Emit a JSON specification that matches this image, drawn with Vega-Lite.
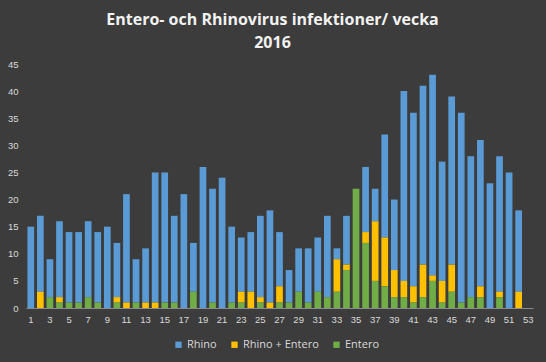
{
  "$schema": "https://vega.github.io/schema/vega-lite/v6.json",
  "width": 507,
  "height": 244,
  "autosize": {"type": "none"},
  "padding": {"left": 26, "top": 64, "right": 13, "bottom": 54},
  "background": "#3c3c3c",
  "title": {
    "text": ["Entero- och Rhinovirus infektioner/ vecka", "2016"],
    "color": "#f2f2f2",
    "font": "Open Sans",
    "fontSize": 16,
    "fontWeight": "bold",
    "anchor": "middle",
    "lineHeight": 23,
    "offset": 8,
    "dx": -7
  },
  "datasets": {
    "ranks": [
      {"key": "Entero", "rank": 1},
      {"key": "Rhino + Entero", "rank": 2},
      {"key": "Rhino", "rank": 3}
    ]
  },
  "data": {
    "values": [
      {"w": 1, "Rhino": 15, "Rhino + Entero": 0, "Entero": 0},
      {"w": 2, "Rhino": 14, "Rhino + Entero": 3, "Entero": 0},
      {"w": 3, "Rhino": 7, "Rhino + Entero": 0, "Entero": 2},
      {"w": 4, "Rhino": 14, "Rhino + Entero": 1, "Entero": 1},
      {"w": 5, "Rhino": 13, "Rhino + Entero": 0, "Entero": 1},
      {"w": 6, "Rhino": 13, "Rhino + Entero": 0, "Entero": 1},
      {"w": 7, "Rhino": 14, "Rhino + Entero": 0, "Entero": 2},
      {"w": 8, "Rhino": 13, "Rhino + Entero": 0, "Entero": 1},
      {"w": 9, "Rhino": 15, "Rhino + Entero": 0, "Entero": 0},
      {"w": 10, "Rhino": 10, "Rhino + Entero": 1, "Entero": 1},
      {"w": 11, "Rhino": 20, "Rhino + Entero": 1, "Entero": 0},
      {"w": 12, "Rhino": 8, "Rhino + Entero": 0, "Entero": 1},
      {"w": 13, "Rhino": 10, "Rhino + Entero": 1, "Entero": 0},
      {"w": 14, "Rhino": 24, "Rhino + Entero": 1, "Entero": 0},
      {"w": 15, "Rhino": 24, "Rhino + Entero": 0, "Entero": 1},
      {"w": 16, "Rhino": 16, "Rhino + Entero": 0, "Entero": 1},
      {"w": 17, "Rhino": 21, "Rhino + Entero": 0, "Entero": 0},
      {"w": 18, "Rhino": 9, "Rhino + Entero": 0, "Entero": 3},
      {"w": 19, "Rhino": 26, "Rhino + Entero": 0, "Entero": 0},
      {"w": 20, "Rhino": 21, "Rhino + Entero": 0, "Entero": 1},
      {"w": 21, "Rhino": 24, "Rhino + Entero": 0, "Entero": 0},
      {"w": 22, "Rhino": 14, "Rhino + Entero": 0, "Entero": 1},
      {"w": 23, "Rhino": 10, "Rhino + Entero": 2, "Entero": 1},
      {"w": 24, "Rhino": 11, "Rhino + Entero": 3, "Entero": 0},
      {"w": 25, "Rhino": 15, "Rhino + Entero": 1, "Entero": 1},
      {"w": 26, "Rhino": 17, "Rhino + Entero": 1, "Entero": 0},
      {"w": 27, "Rhino": 10, "Rhino + Entero": 3, "Entero": 1},
      {"w": 28, "Rhino": 6, "Rhino + Entero": 0, "Entero": 1},
      {"w": 29, "Rhino": 8, "Rhino + Entero": 0, "Entero": 3},
      {"w": 30, "Rhino": 10, "Rhino + Entero": 0, "Entero": 1},
      {"w": 31, "Rhino": 10, "Rhino + Entero": 0, "Entero": 3},
      {"w": 32, "Rhino": 15, "Rhino + Entero": 0, "Entero": 2},
      {"w": 33, "Rhino": 2, "Rhino + Entero": 6, "Entero": 3},
      {"w": 34, "Rhino": 9, "Rhino + Entero": 1, "Entero": 7},
      {"w": 35, "Rhino": 0, "Rhino + Entero": 0, "Entero": 22},
      {"w": 36, "Rhino": 12, "Rhino + Entero": 2, "Entero": 12},
      {"w": 37, "Rhino": 6, "Rhino + Entero": 11, "Entero": 5},
      {"w": 38, "Rhino": 19, "Rhino + Entero": 9, "Entero": 4},
      {"w": 39, "Rhino": 13, "Rhino + Entero": 5, "Entero": 2},
      {"w": 40, "Rhino": 35, "Rhino + Entero": 3, "Entero": 2},
      {"w": 41, "Rhino": 32, "Rhino + Entero": 3, "Entero": 1},
      {"w": 42, "Rhino": 33, "Rhino + Entero": 6, "Entero": 2},
      {"w": 43, "Rhino": 37, "Rhino + Entero": 1, "Entero": 5},
      {"w": 44, "Rhino": 22, "Rhino + Entero": 4, "Entero": 1},
      {"w": 45, "Rhino": 31, "Rhino + Entero": 5, "Entero": 3},
      {"w": 46, "Rhino": 35, "Rhino + Entero": 0, "Entero": 1},
      {"w": 47, "Rhino": 26, "Rhino + Entero": 0, "Entero": 2},
      {"w": 48, "Rhino": 27, "Rhino + Entero": 2, "Entero": 2},
      {"w": 49, "Rhino": 23, "Rhino + Entero": 0, "Entero": 0},
      {"w": 50, "Rhino": 25, "Rhino + Entero": 1, "Entero": 2},
      {"w": 51, "Rhino": 25, "Rhino + Entero": 0, "Entero": 0},
      {"w": 52, "Rhino": 15, "Rhino + Entero": 3, "Entero": 0}
    ]
  },
  "transform": [
    {"fold": ["Rhino", "Rhino + Entero", "Entero"], "as": ["key", "value"]},
    {"lookup": "key", "from": {"data": {"name": "ranks"}, "key": "key", "fields": ["rank"]}}
  ],
  "mark": {"type": "bar"},
  "encoding": {
    "x": {
      "field": "w",
      "type": "ordinal",
      "scale": {
        "domain": [1,2,3,4,5,6,7,8,9,10,11,12,13,14,15,16,17,18,19,20,21,22,23,24,25,26,27,28,29,30,31,32,33,34,35,36,37,38,39,40,41,42,43,44,45,46,47,48,49,50,51,52,53],
        "paddingInner": 0.3,
        "paddingOuter": 0.15
      },
      "axis": {
        "title": null,
        "labelAngle": 0,
        "labelExpr": "datum.value % 2 == 1 ? datum.label : ''",
        "ticks": false,
        "domainColor": "#8c8c8c",
        "domainWidth": 1,
        "labelColor": "#d9d9d9",
        "labelFont": "Liberation Sans",
        "labelFontSize": 9.5,
        "labelPadding": 6,
        "grid": false
      }
    },
    "y": {
      "field": "value",
      "type": "quantitative",
      "stack": "zero",
      "scale": {"domain": [0, 45], "nice": false},
      "axis": {
        "title": null,
        "values": [0,5,10,15,20,25,30,35,40,45],
        "domain": false,
        "ticks": false,
        "grid": false,
        "labelColor": "#d9d9d9",
        "labelFont": "Liberation Sans",
        "labelFontSize": 9.5,
        "labelPadding": 8
      }
    },
    "color": {
      "field": "key",
      "type": "nominal",
      "scale": {
        "domain": ["Rhino", "Rhino + Entero", "Entero"],
        "range": ["#5b9bd5", "#ffc000", "#70ad47"]
      },
      "legend": {
        "title": null,
        "orient": "none",
        "direction": "horizontal",
        "legendX": 147,
        "legendY": 275,
        "symbolType": "square",
        "symbolSize": 40,
        "symbolStrokeWidth": 0,
        "labelColor": "#d9d9d9",
        "labelFont": "Open Sans",
        "labelFontSize": 11,
        "labelOffset": 3,
        "columnPadding": 12
      }
    },
    "order": {"field": "rank", "type": "quantitative", "sort": "ascending"}
  },
  "config": {"view": {"stroke": null}}
}
